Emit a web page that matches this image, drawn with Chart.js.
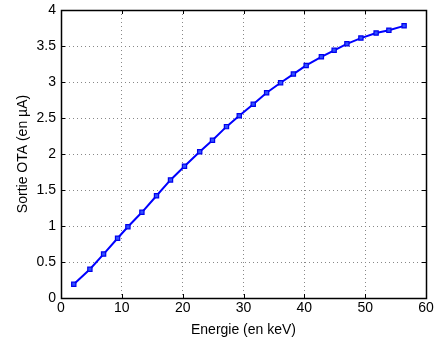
<!DOCTYPE html>
<html><head><meta charset="utf-8">
<script src="https://cdn.jsdelivr.net/npm/chart.js@4"></script>
<style>html,body{margin:0;padding:0;background:#fff}#wrap{width:435px;height:342px}</style>
</head><body><div id="wrap"><canvas id="c" width="435" height="342"></canvas></div>
<script>
const energie = [2.1, 4.75, 7.0, 9.3, 11.0, 13.3, 15.7, 18.0, 20.3, 22.8, 24.9, 27.2, 29.3, 31.6, 33.8, 36.1, 38.2, 40.3, 42.8, 44.9, 47.0, 49.3, 51.8, 53.9, 56.4];
const sortie = [0.19, 0.40, 0.61, 0.83, 0.99, 1.19, 1.42, 1.64, 1.83, 2.03, 2.19, 2.38, 2.53, 2.69, 2.85, 2.99, 3.11, 3.23, 3.35, 3.44, 3.53, 3.61, 3.68, 3.72, 3.78];
const xTicks = [0, 10, 20, 30, 40, 50, 60];
const yTicks = [0, 0.5, 1, 1.5, 2, 2.5, 3, 3.5, 4];
const xTitle = 'Energie (en keV)';
const yTitle = 'Sortie OTA (en µA)';

const boxPlugin = {
  id: 'box',
  afterDraw(chart) {
    const {ctx, chartArea: a, scales: {x, y}} = chart;
    ctx.save();
    ctx.strokeStyle = '#000';
    ctx.lineWidth = 1;
    ctx.beginPath();
    const L = 4;
    xTicks.forEach(v => {
      const px = Math.round(x.getPixelForValue(v)) + 0.5;
      ctx.moveTo(px, a.bottom); ctx.lineTo(px, a.bottom - L);
      ctx.moveTo(px, a.top); ctx.lineTo(px, a.top + L);
    });
    yTicks.forEach(v => {
      const py = Math.round(y.getPixelForValue(v)) + 0.5;
      ctx.moveTo(a.left, py); ctx.lineTo(a.left + L, py);
      ctx.moveTo(a.right, py); ctx.lineTo(a.right - L, py);
    });
    ctx.stroke();
    ctx.lineWidth = 1.5;
    ctx.strokeRect(Math.round(a.left) + 0.5, Math.round(a.top) + 0.5, Math.round(a.right - a.left), Math.round(a.bottom - a.top));
    ctx.restore();
  }
};

const font = {family: '"Liberation Sans", Arial, sans-serif', size: 14};
new Chart(document.getElementById('c'), {
  type: 'scatter',
  data: {
    datasets: [{
      data: energie.map((e, i) => ({x: e, y: sortie[i]})),
      showLine: true,
      borderColor: '#0000ff',
      borderWidth: 2,
      pointStyle: 'rect',
      pointRadius: 3,
      pointBackgroundColor: '#3050ff',
      pointBorderColor: '#0000ee',
      pointBorderWidth: 1.2
    }]
  },
  options: {
    responsive: false,
    animation: false,
    layout: {padding: {left: 15, right: 9, top: 10, bottom: 3}},
    plugins: {legend: {display: false}, tooltip: {enabled: false}},
    scales: {
      x: {
        type: 'linear', min: 0, max: 60,
        afterBuildTicks: s => { s.ticks = xTicks.map(v => ({value: v})); },
        afterFit: s => { s.height = 41; s.paddingLeft = 0; s.paddingRight = 0; },
        ticks: {color: '#000', font, padding: 2, maxRotation: 0, callback: v => String(v)},
        grid: {color: '#888', lineWidth: 1, drawTicks: false},
        border: {display: false, dash: [1, 3]},
        title: {display: true, text: xTitle, color: '#000', font, padding: {top: 0, bottom: 0}}
      },
      y: {
        type: 'linear', min: 0, max: 4,
        afterBuildTicks: s => { s.ticks = yTicks.map(v => ({value: v})); },
        afterFit: s => { s.width = 46; s.paddingTop = 0; s.paddingBottom = 0; },
        ticks: {color: '#000', font, padding: 5, callback: v => String(v)},
        grid: {color: '#888', lineWidth: 1, drawTicks: false},
        border: {display: false, dash: [1, 3]},
        title: {display: true, text: yTitle, color: '#000', font, padding: {top: 0, bottom: 0}}
      }
    }
  },
  plugins: [boxPlugin]
});
</script></body></html>
